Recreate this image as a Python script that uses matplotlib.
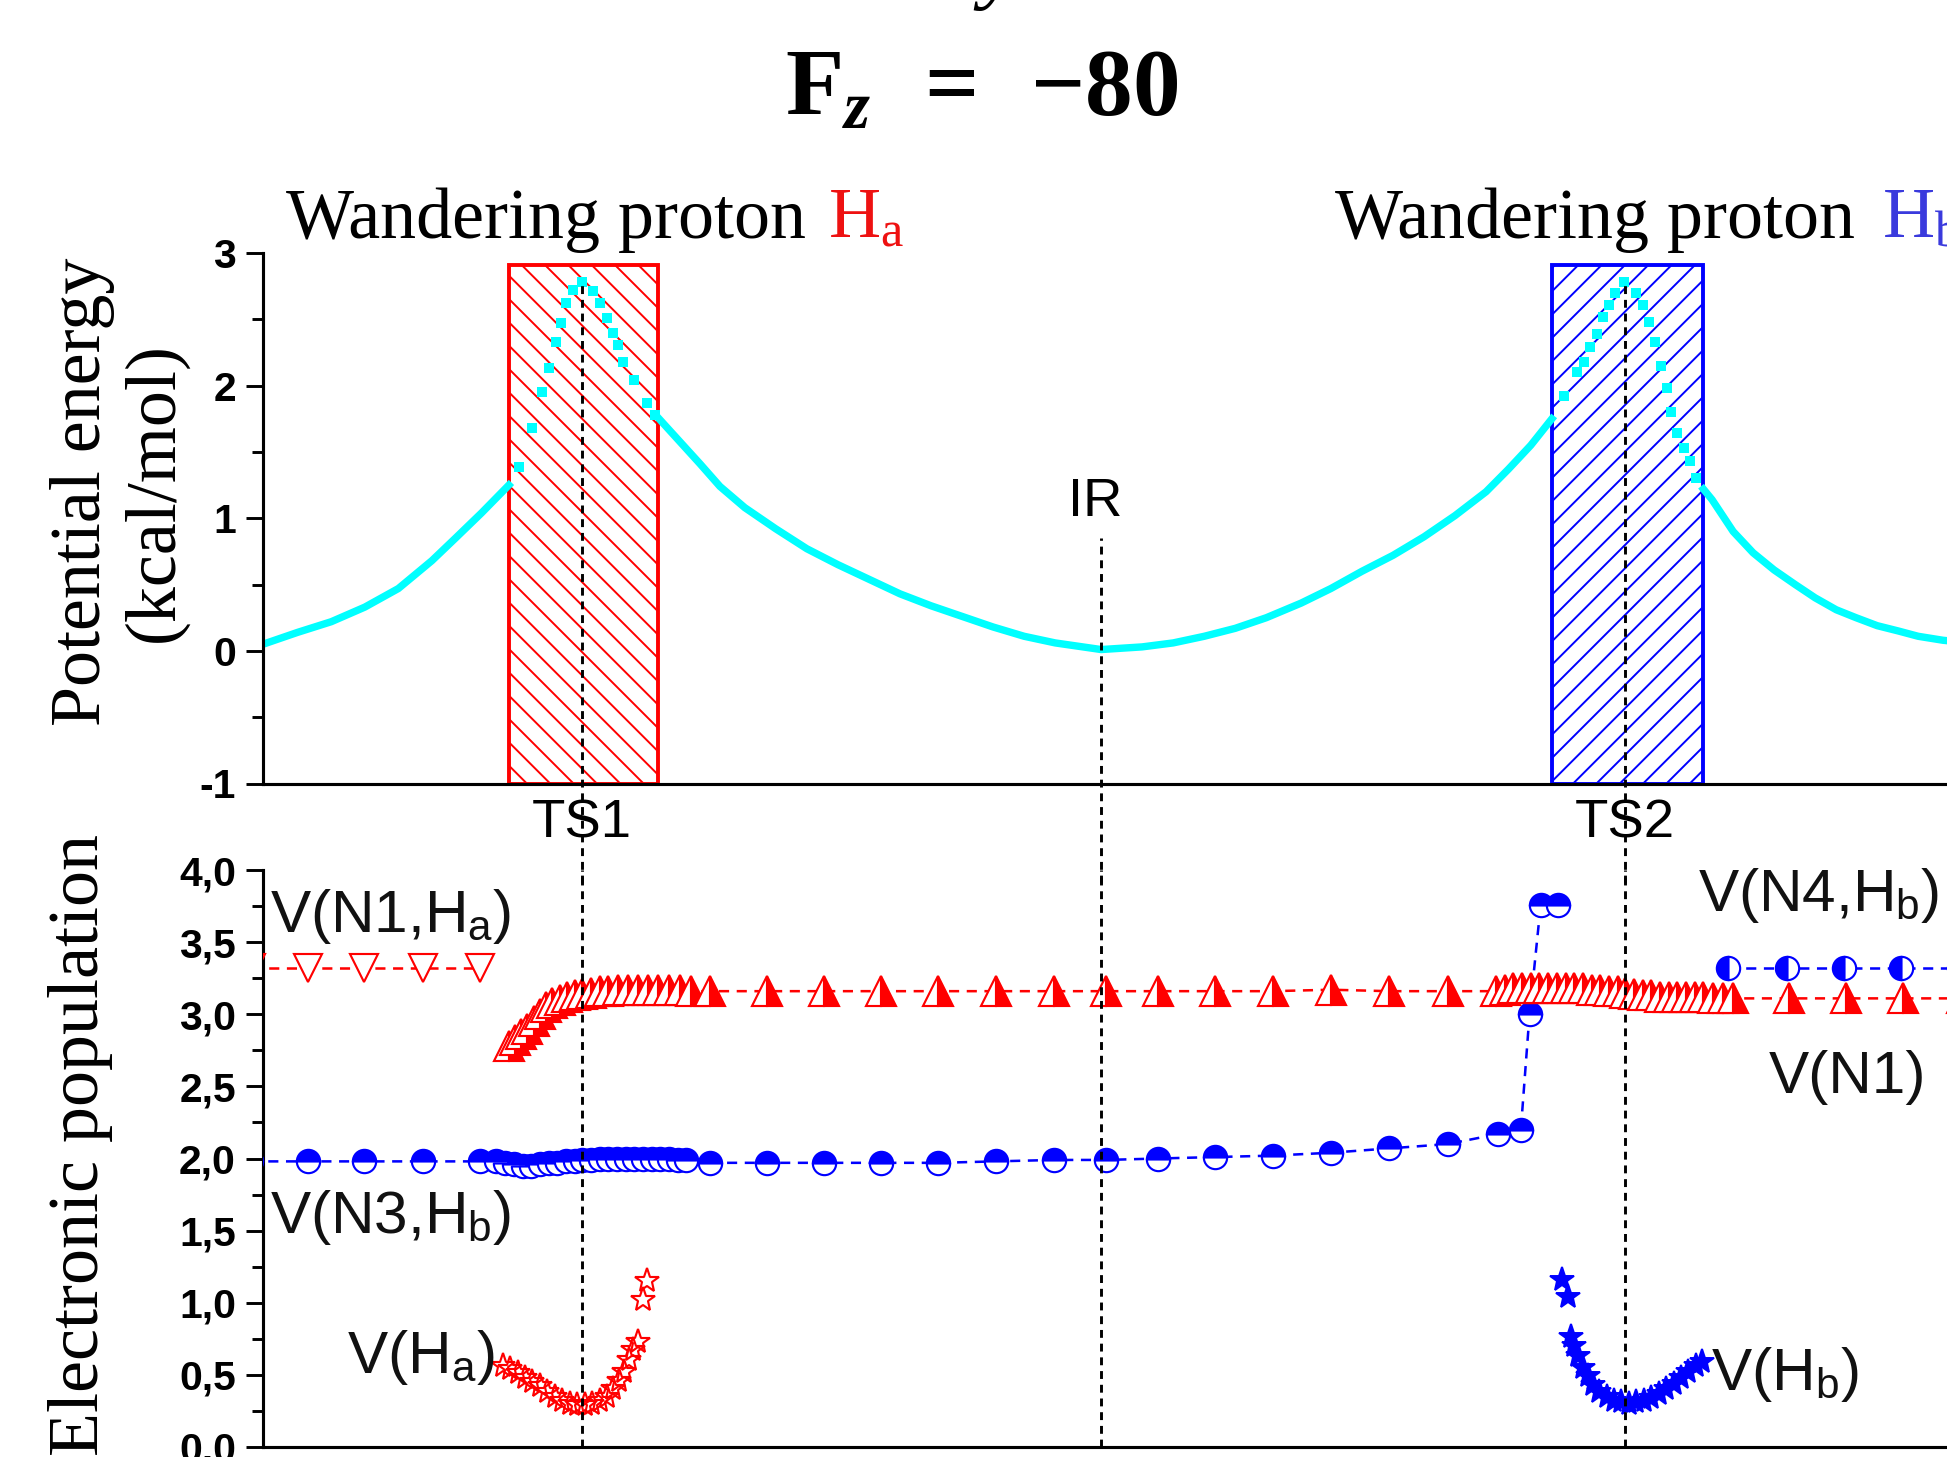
import numpy as np
import matplotlib.pyplot as plt
from matplotlib.ticker import MultipleLocator

W, H, DPI = 1947, 1457, 140

plt.rcParams['font.family'] = ['Liberation Sans', 'DejaVu Sans']
plt.rcParams['mathtext.fontset'] = 'custom'
plt.rcParams['mathtext.rm'] = 'Liberation Serif'
plt.rcParams['mathtext.it'] = 'Liberation Serif:italic'
plt.rcParams['mathtext.bf'] = 'Liberation Serif:bold'
plt.rcParams['mathtext.bfit'] = 'Liberation Serif:italic:bold'
plt.rcParams['hatch.linewidth'] = 1.0

# reaction coordinate (IR at 0) and potential energy (kcal/mol)
pe_s = [-6.75, -6.47, -6.20, -5.93, -5.66, -5.39, -5.20, -4.99, -4.77,
        -4.69, -4.58, -4.50, -4.45, -4.39, -4.35, -4.31, -4.25, -4.18, -4.09, -4.04, -3.98, -3.93, -3.89, -3.85, -3.76, -3.66, -3.59,
        -3.57, -3.23, -3.07, -2.87, -2.62, -2.37, -2.12, -1.87, -1.62, -1.37, -1.12, -0.87, -0.62, -0.37, 0.00,
        0.33, 0.58, 0.83, 1.08, 1.33, 1.61, 1.85, 2.10, 2.35, 2.60, 2.85, 3.10, 3.28, 3.46, 3.63,
        3.73, 3.83, 3.89, 3.94, 3.99, 4.04, 4.09, 4.14, 4.21, 4.31, 4.36, 4.41, 4.46, 4.51, 4.56, 4.59, 4.64, 4.69, 4.74, 4.79,
        4.85, 4.92, 5.09, 5.25, 5.42, 5.59, 5.75, 5.92, 6.08, 6.25, 6.42, 6.58, 6.78, 7.10]
pe_E = [0.05, 0.14, 0.22, 0.33, 0.47, 0.68, 0.85, 1.04, 1.25,
        1.39, 1.68, 1.95, 2.13, 2.33, 2.47, 2.62, 2.72, 2.78, 2.71, 2.62, 2.51, 2.40, 2.31, 2.18, 2.04, 1.87, 1.78,
        1.76, 1.41, 1.24, 1.08, 0.92, 0.77, 0.65, 0.54, 0.43, 0.34, 0.26, 0.18, 0.11, 0.06, 0.01,
        0.03, 0.06, 0.11, 0.17, 0.25, 0.36, 0.47, 0.60, 0.72, 0.86, 1.02, 1.20, 1.37, 1.55, 1.75,
        1.92, 2.10, 2.18, 2.29, 2.39, 2.52, 2.61, 2.70, 2.78, 2.70, 2.61, 2.48, 2.33, 2.15, 1.98, 1.80, 1.64, 1.53, 1.43, 1.30,
        1.22, 1.14, 0.90, 0.74, 0.61, 0.50, 0.40, 0.31, 0.25, 0.19, 0.15, 0.11, 0.08, 0.05]

ts_s = [-4.18, 4.22]
ts_names = ['TS1', 'TS2']
ir_s = 0.0
ir_top = 0.85
box_lo = [-4.77, 3.63]
box_hi = [-3.57, 4.85]
box_top = 2.91

# electronic populations (e)
n1ha_s = [-6.85, -6.39, -5.94, -5.46, -5.00]
n1ha_v = [3.32, 3.32, 3.32, 3.32, 3.32]

n1_s = [-4.77, -4.72, -4.67, -4.62, -4.57, -4.52, -4.47, -4.42, -4.36, -4.30, -4.24, -4.18, -4.11, -4.04, -3.97, -3.89,
        -3.81, -3.73, -3.65, -3.57, -3.48, -3.39, -3.30,
        -3.15, -2.69, -2.23, -1.77, -1.31, -0.85, -0.38, 0.04, 0.46, 0.92, 1.38, 1.85, 2.32, 2.79,
        3.18, 3.25, 3.32, 3.39, 3.46, 3.53, 3.60, 3.67, 3.74, 3.81, 3.88, 3.95, 4.02, 4.09, 4.16, 4.22, 4.29, 4.36,
        4.43, 4.50, 4.57, 4.64, 4.71, 4.78, 4.85, 4.93, 5.01, 5.09,
        5.54, 6.00, 6.46, 6.93]
n1_v = [2.78, 2.82, 2.86, 2.90, 2.95, 3.00, 3.05, 3.08, 3.10, 3.12, 3.13, 3.14, 3.15, 3.16, 3.16, 3.17,
        3.17, 3.17, 3.17, 3.17, 3.17, 3.17, 3.16,
        3.16, 3.16, 3.16, 3.16, 3.16, 3.16, 3.16, 3.16, 3.16, 3.16, 3.16, 3.17, 3.16, 3.16,
        3.16, 3.17, 3.18, 3.18, 3.18, 3.18, 3.18, 3.18, 3.18, 3.18, 3.18, 3.17, 3.17, 3.16, 3.16, 3.15, 3.14, 3.13,
        3.13, 3.12, 3.12, 3.12, 3.12, 3.12, 3.12, 3.11, 3.11, 3.11,
        3.11, 3.11, 3.11, 3.11]

n3hb_s = [-6.85, -6.39, -5.94, -5.46, -5.00,
          -4.87, -4.80, -4.73, -4.66, -4.59, -4.52, -4.45, -4.38, -4.31, -4.24, -4.18, -4.11, -4.04, -3.97, -3.90,
          -3.83, -3.76, -3.69, -3.62, -3.55, -3.48, -3.41, -3.34,
          -3.15, -2.69, -2.23, -1.77, -1.31, -0.85, -0.38, 0.04, 0.46, 0.92, 1.38, 1.85, 2.32, 2.79,
          3.20, 3.38, 3.45, 3.54, 3.68]
n3hb_v = [1.98, 1.98, 1.98, 1.98, 1.98,
          1.98, 1.97, 1.96, 1.95, 1.95, 1.96, 1.97, 1.97, 1.98, 1.98, 1.99, 1.99, 2.00, 2.00, 2.00,
          2.00, 2.00, 2.00, 2.00, 2.00, 2.00, 1.99, 1.99,
          1.97, 1.97, 1.97, 1.97, 1.97, 1.98, 1.99, 1.99, 2.00, 2.01, 2.02, 2.04, 2.07, 2.10,
          2.17, 2.20, 3.00, 3.76, 3.76]

n4hb_s = [5.05, 5.52, 5.98, 6.44, 6.91]
n4hb_v = [3.32, 3.32, 3.32, 3.32, 3.32]

ha_s = [-4.82, -4.76, -4.70, -4.64, -4.58, -4.52, -4.46, -4.40, -4.34, -4.28, -4.22, -4.16, -4.10, -4.04, -3.98,
        -3.93, -3.88, -3.84, -3.80, -3.77, -3.73, -3.69, -3.66]
ha_v = [0.56, 0.54, 0.51, 0.48, 0.45, 0.42, 0.38, 0.35, 0.32, 0.30, 0.29, 0.29, 0.30, 0.32, 0.35,
        0.40, 0.46, 0.52, 0.60, 0.67, 0.73, 1.02, 1.15]

hb_s = [3.71, 3.76, 3.78, 3.81, 3.84, 3.88, 3.92, 3.96, 4.01, 4.07, 4.13, 4.19, 4.25, 4.31, 4.37, 4.43, 4.49,
        4.55, 4.61, 4.67, 4.73, 4.79, 4.84]
hb_v = [1.16, 1.04, 0.76, 0.70, 0.63, 0.55, 0.49, 0.43, 0.38, 0.35, 0.32, 0.31, 0.30, 0.31, 0.32, 0.34, 0.37,
        0.40, 0.44, 0.48, 0.52, 0.56, 0.59]

top_ticks = [-1, 0, 1, 2, 3]
top_labels = ['-1', '0', '1', '2', '3']
bot_ticks = [0.0, 0.5, 1.0, 1.5, 2.0, 2.5, 3.0, 3.5, 4.0]
bot_labels = ['0,0', '0,5', '1,0', '1,5', '2,0', '2,5', '3,0', '3,5', '4,0']

RED, BLUE, CYAN = '#FF0000', '#0000FF', '#00FFFF'
DASH = (0, (2.7, 2.0))


def fpos(x, y):
    return x / W, 1 - y / H


fig = plt.figure(figsize=(W / DPI, H / DPI), dpi=DPI)
XMIN, XMAX = -6.75, 7.5
ax_w = (XMAX - XMIN) * 124.17 / W
ax1 = fig.add_axes([263 / W, 1 - 783.5 / H, ax_w, 530.5 / H])
ax2 = fig.add_axes([263 / W, 1 - 1447 / H, ax_w, 577 / H])

for ax in (ax1, ax2):
    ax.set_xlim(XMIN, XMAX)
    ax.patch.set_visible(False)
    ax.spines[['top', 'right']].set_visible(False)
    ax.spines[['left', 'bottom']].set_linewidth(1.6)
    ax.tick_params(axis='x', bottom=False, labelbottom=False)
    ax.tick_params(axis='y', which='major', length=9, width=1.5, pad=5)
    ax.tick_params(axis='y', which='minor', length=5.5, width=1.5)

ax1.set_ylim(-1, 3)
ax1.set_yticks(top_ticks, top_labels, fontsize=21, fontweight='bold')
ax1.yaxis.set_minor_locator(MultipleLocator(0.5))
ax2.set_ylim(0, 4)
ax2.set_yticks(bot_ticks, bot_labels, fontsize=21, fontweight='bold')
ax2.yaxis.set_minor_locator(MultipleLocator(0.25))

# ---- top panel: potential energy profile ----
pe_s = np.array(pe_s)
pe_E = np.array(pe_E)
inside = np.zeros(len(pe_s), bool)
for lo, hi in zip(box_lo, box_hi):
    inside |= (pe_s > lo) & (pe_s < hi)

for lo, hi, col, hat in zip(box_lo, box_hi, [RED, BLUE], ['\\\\', '//']):
    ax1.bar((lo + hi) / 2, box_top + 1, width=hi - lo, bottom=-1, facecolor='none',
            edgecolor=col, hatch=hat, linewidth=2, zorder=1)

ax1.plot(pe_s, np.ma.masked_where(inside, pe_E), color=CYAN, lw=3.8, zorder=2,
         solid_joinstyle='round')
ax1.plot(pe_s[inside], pe_E[inside], 's', color=CYAN, ms=5.5, mew=0, zorder=2)

for s, name in zip(ts_s, ts_names):
    peak = np.interp(s, pe_s, pe_E)
    ax1.plot([s, s], [-1.75, peak], ls=DASH, color='black', lw=1.5, clip_on=False, zorder=4)
    ax2.plot([s, s], [0, 4.0], ls=DASH, color='black', lw=1.5, zorder=4)
    ax1.text(s, -1.30, name, ha='center', va='center', fontsize=28, clip_on=False)

ax1.plot([ir_s, ir_s], [-1.75, ir_top], ls=DASH, color='black', lw=1.5, clip_on=False, zorder=4)
ax2.plot([ir_s, ir_s], [0, 4.0], ls=DASH, color='black', lw=1.5, zorder=4)
ax1.text(ir_s - 0.05, 1.12, 'IR', ha='center', va='center', fontsize=28)

# ---- bottom panel: electronic populations ----
line_kw = dict(ls=(0, (4, 3)), lw=1.3, mew=1.1, zorder=3)
ax2.plot(n1ha_s, n1ha_v, marker='v', ms=14, color=RED, mfc='white', mec=RED, **line_kw)
ax2.plot(n3hb_s, n3hb_v, marker='o', ms=12, color=BLUE, fillstyle='top', mfc=BLUE,
         markerfacecoloralt='white', mec=BLUE, **line_kw)
ax2.plot(n1_s, n1_v, marker='^', ms=15, color=RED, fillstyle='right', mfc=RED,
         markerfacecoloralt='white', mec=RED, **line_kw)
ax2.plot(n4hb_s, n4hb_v, marker='o', ms=12, color=BLUE, fillstyle='left', mfc=BLUE,
         markerfacecoloralt='white', mec=BLUE, **line_kw)
ax2.plot(ha_s, ha_v, ls='none', marker='*', ms=13, mfc='none', mec=RED, mew=1.1, zorder=3)
ax2.plot(hb_s, hb_v, ls='none', marker='*', ms=13, mfc=BLUE, mec=BLUE, mew=1.0, zorder=3)

lab_kw = dict(fontsize=31, va='center', ha='left', color='#111111')
ax2.text(-6.69, 3.68, r'V(N1,H$_\mathregular{a}$)', **lab_kw)
ax2.text(-6.69, 1.59, r'V(N3,H$_\mathregular{b}$)', **lab_kw)
ax2.text(-6.07, 0.62, r'V(H$_\mathregular{a}$)', **lab_kw)
ax2.text(4.81, 3.82, r'V(N4,H$_\mathregular{b}$)', clip_on=False, **lab_kw)
ax2.text(5.38, 2.56, 'V(N1)', **lab_kw)
ax2.text(4.91, 0.50, r'V(H$_\mathregular{b}$)', **lab_kw)

# ---- figure texts ----
serif = 'Liberation Serif'
fig.text(*fpos(1000, -8), 'y', family=serif, style='italic', fontsize=45, va='baseline', ha='center')
fig.text(*fpos(982, 116), r'$\mathbf{F}_{\mathbfit{z}}\;\;\mathbf{=}\;\;\mathbf{-80}$',
         fontsize=49, ha='center', va='baseline')
fig.text(*fpos(286, 238), 'Wandering proton', family=serif, fontsize=37, va='baseline')
fig.text(*fpos(828, 238), r'H$_\mathregular{a}$', family=serif, fontsize=37, va='baseline', color='#EE1111')
fig.text(*fpos(1335, 238), 'Wandering proton', family=serif, fontsize=37, va='baseline')
fig.text(*fpos(1882, 238), r'H$_\mathregular{b}$', family=serif, fontsize=37, va='baseline', color='#3A3ADD')

fig.text(*fpos(119, 492), 'Potential energy\n(kcal/mol)', family=serif, fontsize=37, rotation=90,
         ha='center', va='center', multialignment='center', linespacing=1.15)
fig.text(*fpos(81, 1145), 'Electronic population', family=serif, fontsize=37, rotation=90,
         ha='center', va='center')

fig.savefig('out.png', dpi=DPI)
